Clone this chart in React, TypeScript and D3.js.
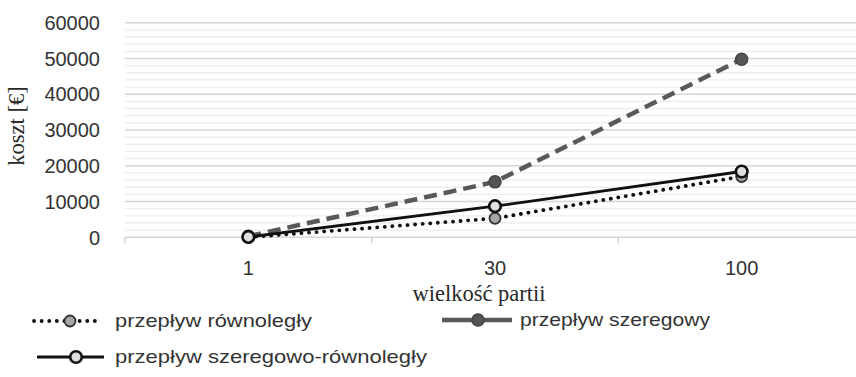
import React from "react";
import * as d3 from "d3";

const categories = ["1", "30", "100"];
const rownolegly = [0, 5300, 17000];
const szeregowy = [300, 15500, 49800];
const szeregowoRownolegly = [100, 8700, 18400];
const yTicks = [0, 10000, 20000, 30000, 40000, 50000, 60000];

const W = 856, H = 377;
const left = 125, right = 865, top = 22.7, bottom = 237.3;

export default function App() {
  const x = d3.scaleBand<string>().domain(categories).range([left, right]);
  const y = d3.scaleLinear().domain([0, 60000]).range([bottom, top]);
  const minor = d3.range(0, 60001, 2000).filter((v) => v % 10000 !== 0);
  const cx = (c: string) => (x(c) as number) + x.bandwidth() / 2;
  const line = d3
    .line<number>()
    .x((_, i) => cx(categories[i]))
    .y((d) => y(d));
  const bounds = [...categories.map((c) => x(c) as number), right];

  const tickFont = "'Liberation Sans', Arial, sans-serif";
  const serif = "'Liberation Serif', 'Times New Roman', serif";
  const txt = "#333";

  return (
    <svg width={W} height={H} style={{ position: "absolute", left: 0, top: 0 }}>
      <rect width={W} height={H} fill="#fff" />
      {minor.map((v) => (
        <line key={"m" + v} x1={left} x2={right} y1={y(v)} y2={y(v)} stroke="#ededed" strokeWidth={1.3} />
      ))}
      {yTicks.map((v) => (
        <line key={"g" + v} x1={left} x2={right} y1={y(v)} y2={y(v)} stroke="#d6d6d6" strokeWidth={1.6} />
      ))}
      {bounds.map((b, i) => (
        <line key={"t" + i} x1={b} x2={b} y1={bottom} y2={bottom + 6} stroke="#d0d0d0" strokeWidth={1.3} />
      ))}
      {yTicks.map((v) => (
        <text key={"yl" + v} x={100} y={y(v)} dy="0.36em" textAnchor="end" fontFamily={tickFont} fontSize={20} fill={txt}>
          {v}
        </text>
      ))}
      {categories.map((c) => (
        <text key={"xl" + c} x={cx(c)} y={275} textAnchor="middle" fontFamily={tickFont} fontSize={20} fill={txt}>
          {c}
        </text>
      ))}
      <text x={479} y={301} textAnchor="middle" fontFamily={serif} fontSize={22.5} fill="#2a2a2a">
        wielkość partii
      </text>
      <text transform="translate(24,126) rotate(-90)" textAnchor="middle" fontFamily={serif} fontSize={22.5} fill="#2a2a2a">
        koszt [€]
      </text>

      {/* series lines */}
      <path d={line(szeregowy) as string} fill="none" stroke="#595959" strokeWidth={4.5} strokeDasharray="13 7" />
      <path d={line(rownolegly) as string} fill="none" stroke="#111" strokeWidth={3.8} strokeDasharray="0.1 7.5" strokeLinecap="round" />
      <path d={line(szeregowoRownolegly) as string} fill="none" stroke="#111" strokeWidth={2.8} />

      {/* markers */}
      {szeregowy.map((v, i) => (
        <circle key={"ms" + i} cx={cx(categories[i])} cy={y(v)} r={6} fill="#555" stroke="#444" strokeWidth={1.5} />
      ))}
      {rownolegly.map((v, i) => (
        <circle key={"mr" + i} cx={cx(categories[i])} cy={y(v)} r={5.5} fill="#a6a6a6" stroke="#333" strokeWidth={1.8} />
      ))}
      {szeregowoRownolegly.map((v, i) => (
        <circle key={"msr" + i} cx={cx(categories[i])} cy={y(v)} r={5.8} fill="#e0e0e0" stroke="#111" strokeWidth={2.6} />
      ))}

      {/* legend */}
      <g>
        <line x1={34} x2={102} y1={321} y2={321} stroke="#111" strokeWidth={3.8} strokeDasharray="0.1 7.5" strokeLinecap="round" />
        <circle cx={70} cy={321} r={5.5} fill="#a6a6a6" stroke="#333" strokeWidth={1.8} />
        <text x={115} y={327} fontFamily={tickFont} fontSize={19} fill={txt} textLength={197} lengthAdjust="spacingAndGlyphs">
          przepływ równoległy
        </text>

        <line x1={442} x2={512} y1={320} y2={320} stroke="#595959" strokeWidth={4.5} />
        <circle cx={478} cy={320} r={6} fill="#555" stroke="#444" strokeWidth={1.5} />
        <text x={520} y={326} fontFamily={tickFont} fontSize={19} fill={txt} textLength={190} lengthAdjust="spacingAndGlyphs">
          przepływ szeregowy
        </text>

        <line x1={37} x2={104} y1={357} y2={357} stroke="#111" strokeWidth={2.8} />
        <circle cx={76} cy={357} r={5.8} fill="#e0e0e0" stroke="#111" strokeWidth={2.6} />
        <text x={115} y={363} fontFamily={tickFont} fontSize={19} fill={txt} textLength={312} lengthAdjust="spacingAndGlyphs">
          przepływ szeregowo-równoległy
        </text>
      </g>
    </svg>
  );
}
